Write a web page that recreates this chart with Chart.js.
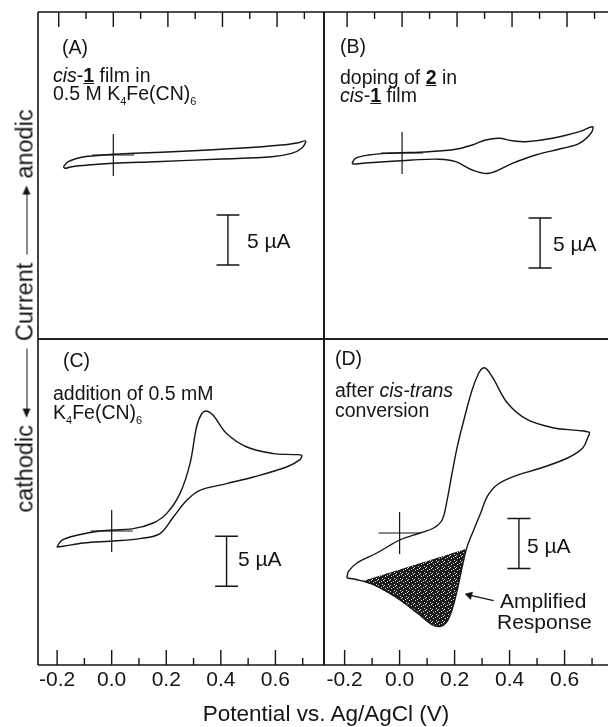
<!DOCTYPE html>
<html>
<head>
<meta charset="utf-8">
<script src="https://cdn.jsdelivr.net/npm/chart.js@4.4.0/dist/chart.umd.min.js"></script>
<style>
  html, body { margin: 0; padding: 0; background: #fff; overflow: hidden; }
  #page { position: relative; width: 609px; height: 727px; font-family: "Liberation Sans", Arial, sans-serif; color: #151515; }
  #page canvas { position: absolute; left: 0; top: 0; }
  .t { position: absolute; white-space: nowrap; font-size: 19.5px; line-height: 20px; }
  .big { font-size: 21px; }
  .sb { font-size: 11px; position: relative; top: 5px; }
  .u { font-weight: bold; text-decoration: underline; }
  #xtitle { position: absolute; left: 326px; top: 703px; transform: translateX(-50%); font-size: 22.5px; line-height: 22px; white-space: nowrap; }
  #ylab { position: absolute; left: 25px; top: 311px; transform: translate(-50%, -50%) rotate(-90deg);
          display: flex; align-items: center; font-size: 23.5px; line-height: 23px; white-space: nowrap; }
  .arr { display: inline-block; position: relative; width: 68px; height: 1.3px; background: #151515; margin: 0 8px; top: 2px; }
  .arr.l::before, .arr.r::after { content: ""; position: absolute; top: -3.5px; border-top: 4px solid transparent; border-bottom: 4px solid transparent; }
  .arr.l::before { left: -1px; border-right: 9px solid #151515; }
  .arr.r::after { right: -1px; border-left: 9px solid #151515; }
</style>
</head>
<body>
<div id="page">
  <canvas id="cA" width="609" height="727"></canvas>
  <canvas id="cB" width="609" height="727"></canvas>
  <canvas id="cC" width="609" height="727"></canvas>
  <canvas id="cD" width="609" height="727"></canvas>

  <div class="t" style="left:62px; top:37px;">(A)</div>
  <div class="t" style="left:53px; top:65px;"><i>cis</i>-<span class="u">1</span> film in</div>
  <div class="t" style="left:53px; top:83px;">0.5 M K<span class="sb">4</span>Fe(CN)<span class="sb">6</span></div>

  <div class="t" style="left:340px; top:36px;">(B)</div>
  <div class="t" style="left:340px; top:67px;">doping of <span class="u">2</span> in</div>
  <div class="t" style="left:340px; top:85px;"><i>cis</i>-<span class="u">1</span> film</div>

  <div class="t" style="left:63px; top:350px;">(C)</div>
  <div class="t" style="left:53px; top:383px;">addition of 0.5 mM</div>
  <div class="t" style="left:53px; top:402px;">K<span class="sb">4</span>Fe(CN)<span class="sb">6</span></div>

  <div class="t" style="left:335px; top:348px;">(D)</div>
  <div class="t" style="left:335px; top:380px;">after <i>cis-trans</i></div>
  <div class="t" style="left:335px; top:400px;">conversion</div>

  <div class="t big" style="left:247px; top:231px;">5 &micro;A</div>
  <div class="t big" style="left:553px; top:234px;">5 &micro;A</div>
  <div class="t big" style="left:238px; top:549px;">5 &micro;A</div>
  <div class="t big" style="left:527px; top:536px;">5 &micro;A</div>

  <div class="t big" style="left:500px; top:591px;">Amplified</div>
  <div class="t big" style="left:497px; top:612px;">Response</div>

  <div id="xtitle">Potential vs. Ag/AgCl (V)</div>
  <div id="ylab"><span>cathodic</span><span class="arr l"></span><span>Current</span><span class="arr r"></span><span>anodic</span></div>
</div>

<script>
// potential (V) and current (uA) read around each closed CV loop
var potA = [-0.183, -0.165, -0.116, -0.067, 0.000, 0.079, 0.275, 0.458, 0.617, 0.678, 0.705, 0.690, 0.653, 0.580, 0.397, 0.153, 0.000, -0.092, -0.152, -0.177, -0.183];
var curA = [-1.17, -0.67, -0.23, -0.07, 0.07, 0.17, 0.40, 0.67, 1.00, 1.23, 1.40, 0.67, 0.17, -0.17, -0.40, -0.67, -0.83, -1.00, -1.17, -1.33, -1.17];

var potB = [-0.182, -0.170, -0.122, -0.049, 0.097, 0.195, 0.255, 0.304, 0.353, 0.401, 0.450, 0.547, 0.645, 0.693, 0.687, 0.645, 0.584, 0.486, 0.401, 0.316, 0.255, 0.195, 0.134, 0.036, -0.049, -0.134, -0.176, -0.182];
var curB = [-1.03, -0.53, -0.20, -0.03, 0.13, 0.37, 0.80, 1.30, 1.47, 1.23, 1.13, 1.47, 2.13, 2.63, 1.97, 0.97, 0.47, -0.20, -1.03, -2.03, -1.70, -0.87, -0.62, -0.70, -0.85, -1.00, -1.10, -1.03];

var potC = [-0.201, -0.183, -0.128, -0.043, 0.079, 0.152, 0.201, 0.250, 0.287, 0.311, 0.330, 0.348, 0.372, 0.421, 0.495, 0.592, 0.665, 0.696, 0.690, 0.641, 0.519, 0.421, 0.323, 0.275, 0.226, 0.177, 0.104, 0.006, -0.104, -0.177, -0.201];
var curC = [-1.60, -0.93, -0.43, 0.00, 0.24, 0.80, 1.74, 3.74, 6.74, 10.40, 11.74, 12.00, 11.57, 9.74, 8.40, 7.74, 7.64, 7.57, 7.14, 6.40, 5.40, 4.74, 4.07, 3.07, 1.40, -0.26, -0.76, -1.00, -1.20, -1.53, -1.60];

var potD = [-0.192, -0.186, -0.155, -0.083, 0.003, 0.075, 0.124, 0.155, 0.173, 0.191, 0.210, 0.234, 0.264, 0.288, 0.304, 0.319, 0.343, 0.392, 0.465, 0.562, 0.647, 0.690, 0.686, 0.666, 0.611, 0.514, 0.416, 0.355, 0.319, 0.295, 0.270, 0.246, 0.228, 0.210, 0.191, 0.173, 0.149, 0.118, 0.064, -0.009, -0.095, -0.155, -0.192];
var curD = [-4.50, -3.84, -3.00, -2.00, -0.67, 0.00, 0.50, 1.33, 3.33, 6.00, 8.66, 11.33, 14.33, 16.00, 16.50, 16.33, 15.33, 13.00, 11.33, 10.50, 10.26, 10.06, 9.66, 8.50, 7.50, 6.50, 5.66, 4.83, 3.66, 2.00, 0.33, -1.34, -3.34, -5.67, -7.67, -8.84, -9.34, -9.17, -8.00, -6.50, -5.17, -4.67, -4.50];

// shaded "amplified response" region in (D)
var shadePot = [0.240, 0.228, 0.210, 0.191, 0.173, 0.149, 0.118, 0.064, -0.009, -0.095, -0.137, 0.240];
var shadeCur = [-1.60, -3.34, -5.67, -7.67, -8.84, -9.34, -9.17, -8.00, -6.50, -5.17, -4.82, -1.60];

var xTickValues = [-0.2, 0.0, 0.2, 0.4, 0.6];
var xTickLabels = ["-0.2", "0.0", "0.2", "0.4", "0.6"];
var xMarkValues = [-0.2, -0.1, 0.0, 0.1, 0.2, 0.3, 0.4, 0.5, 0.6, 0.7];

var ink = "#151515";
var font = "'Liberation Sans', Arial, sans-serif";

function pts(xs, ys) {
  return xs.map(function (x, i) { return { x: x, y: ys[i] }; });
}

// "I" shaped 5 uA bar, drawn as one polyline
function barPts(x, top, bottom) {
  var d = 0.042;
  return [
    { x: x - d, y: top }, { x: x + d, y: top }, { x: x, y: top },
    { x: x, y: bottom }, { x: x - d, y: bottom }, { x: x + d, y: bottom }
  ];
}

function stipple() {
  var c = document.createElement("canvas");
  c.width = 6; c.height = 6;
  var g = c.getContext("2d");
  g.fillStyle = "#1c1c1c";
  g.fillRect(0, 0, 6, 6);
  g.fillStyle = "#d8d8d8";
  [[1, 0], [4, 2], [0, 3], [3, 5], [5, 4]].forEach(function (p) { g.fillRect(p[0], p[1], 1, 1); });
  return g.createPattern(c, "repeat");
}

var framePlugin = {
  id: "frame",
  afterDraw: function (chart, args, opts) {
    var a = chart.chartArea, ctx = chart.ctx, sx = chart.scales.x;
    ctx.save();
    ctx.strokeStyle = ink;
    ctx.lineWidth = 1.6;
    ctx.beginPath();
    ctx.moveTo(a.left, a.top); ctx.lineTo(a.right, a.top);
    ctx.moveTo(a.left, a.top); ctx.lineTo(a.left, a.bottom);
    ctx.moveTo(a.left, a.bottom); ctx.lineTo(a.right, a.bottom);
    if (opts.right) { ctx.moveTo(a.right, a.top); ctx.lineTo(a.right, a.bottom); }
    ctx.stroke();
    ctx.lineWidth = 1.4;
    ctx.beginPath();
    xMarkValues.forEach(function (v, i) {
      var px = sx.getPixelForValue(v);
      var len = i % 2 === 0 ? 15 : 7;
      if (opts.side === "top") { ctx.moveTo(px, a.top); ctx.lineTo(px, a.top + len); }
      else { ctx.moveTo(px, a.bottom); ctx.lineTo(px, a.bottom - len); }
    });
    ctx.stroke();
    ctx.restore();
  }
};

var panels = [
  { id: "cA", pot: potA, cur: curA, x: [-0.276, 0.772], y: [-18.4, 14.3], pad: { left: 38, top: 12, right: 285, bottom: 388 }, side: "top", right: true, bar: [0.42, -6.0, -11.0] },
  { id: "cB", pot: potB, cur: curB, x: [-0.284, 0.749], y: [-18.6, 14.1], pad: { left: 324, top: 12, right: 1, bottom: 388 }, side: "top", right: false, bar: [0.502, -6.5, -11.5] },
  { id: "cC", pot: potC, cur: curC, x: [-0.270, 0.778], y: [-13.4, 19.2], pad: { left: 38, top: 339, right: 285, bottom: 22 }, side: "bottom", right: true, bar: [0.421, -0.53, -5.53] },
  { id: "cD", pot: potD, cur: curD, x: [-0.275, 0.758], y: [-13.2, 19.4], pad: { left: 324, top: 339, right: 1, bottom: 22 }, side: "bottom", right: false, bar: [0.434, 1.45, -3.55] }
];

panels.forEach(function (p) {
  var datasets = [
    { data: pts(p.pot, p.cur), showLine: true, tension: 0.35, borderColor: ink, borderWidth: 1.4, pointRadius: 0, fill: false },
    { data: [{ x: 0, y: 0 }], pointStyle: "cross", pointRadius: 21, borderColor: ink, borderWidth: 1.2, showLine: false },
    { data: barPts(p.bar[0], p.bar[1], p.bar[2]), showLine: true, tension: 0, borderColor: ink, borderWidth: 1.4, pointRadius: 0 }
  ];
  if (p.id === "cD") {
    datasets.push({ data: [{ x: 0.342, y: -6.77 }, { x: 0.254, y: -6.22 }], showLine: true, tension: 0, borderColor: ink, borderWidth: 1.2,
      pointRadius: [0, 4.5], pointStyle: "triangle", pointRotation: 286, pointBackgroundColor: ink, pointBorderWidth: 0.5 });
    datasets.push({ data: pts(shadePot, shadeCur), showLine: true, tension: 0, borderWidth: 0, borderColor: "rgba(0,0,0,0)",
      pointRadius: 0, fill: "shape", backgroundColor: stipple() });
  }
  var bottom = p.side === "bottom";
  new Chart(document.getElementById(p.id), {
    type: "scatter",
    data: { datasets: datasets },
    options: {
      responsive: false,
      animation: false,
      events: [],
      layout: { padding: p.pad, autoPadding: false },
      plugins: {
        legend: { display: false },
        tooltip: { enabled: false },
        frame: { side: p.side, right: p.right }
      },
      scales: {
        x: {
          type: "linear", min: p.x[0], max: p.x[1], display: bottom, position: "bottom",
          grid: { display: false, drawTicks: false }, border: { display: false },
          afterBuildTicks: function (s) { s.ticks = xTickValues.map(function (v) { return { value: v }; }); },
          afterFit: function (s) { if (bottom) { s.height = 40; } },
          ticks: { padding: 3, color: ink, autoSkip: false, maxRotation: 0, font: { family: font, size: 21 },
            callback: function (v, i) { return xTickLabels[i]; } }
        },
        y: { type: "linear", min: p.y[0], max: p.y[1], display: false }
      }
    },
    plugins: [framePlugin]
  });
});
</script>
</body>
</html>
